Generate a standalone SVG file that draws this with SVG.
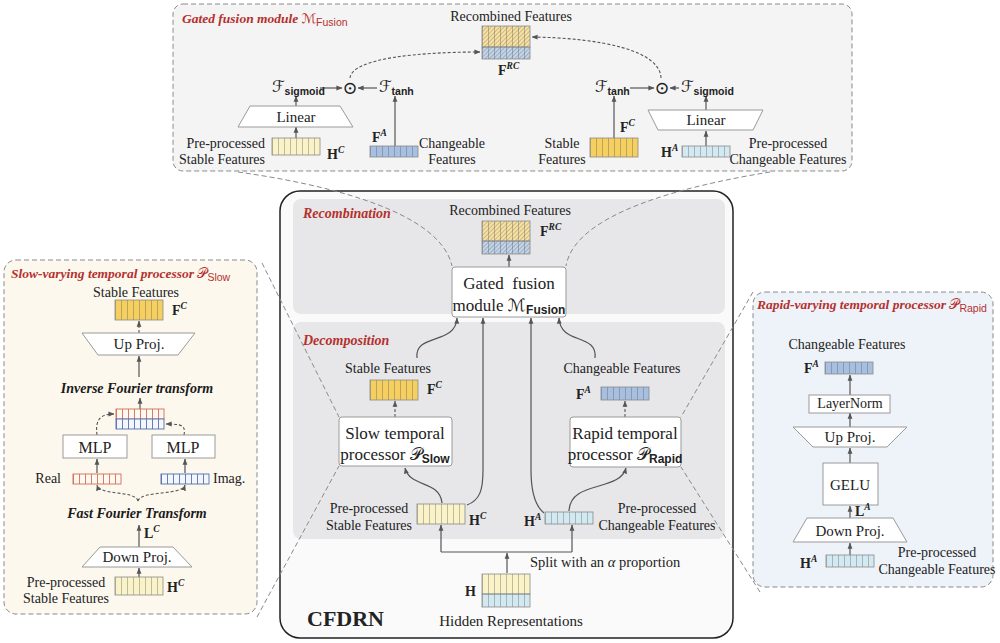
<svg xmlns="http://www.w3.org/2000/svg" width="1000" height="643" viewBox="0 0 1000 643">
<defs>
<style>
.t{font-family:"Liberation Serif",serif;font-size:14px;fill:#222}
.mid{text-anchor:middle}
.end{text-anchor:end}
.big{font-size:17px}
.ti{font-family:"Liberation Serif",serif;font-weight:bold;font-style:italic;fill:#b5302e;font-size:13.5px}
.bi{font-family:"Liberation Serif",serif;font-weight:bold;font-style:italic;fill:#1a1a1a;font-size:14px}
.b{font-weight:bold}
.m{font-family:"DejaVu Serif","DejaVu Sans",serif;font-style:normal;font-weight:normal}
.sub{font-family:"Liberation Sans",sans-serif;font-weight:bold;font-size:10.5px;font-style:normal}
.sup{font-size:9.5px;font-style:italic;font-weight:bold}
.box{fill:#fff;stroke:#9a9a9a;stroke-width:1}
.ln{fill:none;stroke:#555;stroke-width:1.2}
.dl{fill:none;stroke:#555;stroke-width:1.1;stroke-dasharray:3 2}
.zm{fill:none;stroke:#8a8a8a;stroke-width:1;stroke-dasharray:5 3}
.cy{fill:#fbf3c8}.cg{fill:#f5cf60}.cb{fill:#a7bfe0}.cc{fill:#d3e9f2}.hy{fill:#f7e2a4}.hb{fill:#c3d5ea}
.cell{fill:url(#cells);stroke:#8a8a8a;stroke-width:.8}
.hat{fill:url(#hatch)}
.cr{fill:url(#cellsR);stroke:#d07050;stroke-width:.9}
.cbl{fill:url(#cellsB);stroke:#5570b0;stroke-width:.9}
</style>
<pattern id="cells" patternUnits="objectBoundingBox" width="0.125" height="1"><rect width="0.8" height="80" fill="#555" fill-opacity="0.45"/></pattern>
<pattern id="cellsR" patternUnits="objectBoundingBox" width="0.125" height="1"><rect width="0.9" height="80" fill="#d07050"/></pattern>
<pattern id="cellsB" patternUnits="objectBoundingBox" width="0.125" height="1"><rect width="0.9" height="80" fill="#5570b0"/></pattern>
<pattern id="hatch" patternUnits="userSpaceOnUse" width="3" height="3" patternTransform="rotate(45)"><rect width="0.9" height="3" fill="#000" fill-opacity="0.2"/></pattern>
<marker id="a" viewBox="0 0 8 8" refX="7.5" refY="4" markerWidth="6" markerHeight="6" orient="auto" markerUnits="userSpaceOnUse"><path d="M0,0.8 L8,4 L0,7.2z" fill="#555"/></marker>
</defs>

<g id="panel-fusion">
<rect x="173" y="4" width="679" height="167" rx="10" fill="#f4f4f4" stroke="#8a8a8a" stroke-dasharray="5 3"/>
<text class="ti" x="182" y="23">Gated fusion module <tspan class="m">ℳ</tspan><tspan class="sub" style="font-weight:normal" dy="3">Fusion</tspan></text>
</g>
<g id="panel-slow">
<rect x="4" y="260" width="253" height="354" rx="12" fill="#fcf8ee" stroke="#8a8a8a" stroke-dasharray="5 3"/>
<text class="ti" x="11" y="278">Slow-varying temporal processor <tspan class="m">𝒫</tspan><tspan class="sub" style="font-weight:normal" dy="3">Slow</tspan></text>
</g>
<g id="panel-rapid">
<rect x="753" y="292" width="240" height="295" rx="12" fill="#eef3f9" stroke="#8a8a8a" stroke-dasharray="5 3"/>
<text class="ti" x="757" y="309">Rapid-varying temporal processor <tspan class="m">𝒫</tspan><tspan class="sub" style="font-weight:normal" dy="3">Rapid</tspan></text>
</g>
<g id="panel-cfdrn">
<rect x="280" y="191" width="453" height="447" rx="20" fill="#fafafa" stroke="#222" stroke-width="1.5"/>
<rect x="293" y="199" width="432" height="115" rx="8" fill="#e7e7e9"/>
<rect x="293" y="322" width="432" height="217" rx="8" fill="#e7e7e9"/>
<text class="ti" x="303" y="218" style="font-size:14px">Recombination</text>
<text class="ti" x="303" y="345" style="font-size:14px">Decomposition</text>
<text class="t b" x="307" y="626" style="font-size:22px">CFDRN</text>
</g>

<g id="connectors">
<path class="zm" d="M238,172 C330,185 440,212 452,266"/>
<path class="zm" d="M770,172 C690,185 575,212 566,266"/>
<path class="zm" d="M262,263 L339,417"/>
<path class="zm" d="M257,617 L339,466"/>
<path class="zm" d="M753,292 L681,417"/>
<path class="zm" d="M760,592 L681,467"/>
<path class="dl" d="M350,78 C352,58 420,52 480,52" marker-end="url(#a)"/>
<path class="dl" d="M661,78 C660,50 600,38 532,37" marker-end="url(#a)"/>
<path class="ln" d="M320,88 L342,88" marker-end="url(#a)"/>
<path class="ln" d="M377,88 L358,88" marker-end="url(#a)"/>
<path class="ln" d="M630,88 L654,88" marker-end="url(#a)"/>
<path class="ln" d="M679,88 L670,88" marker-end="url(#a)"/>
<path class="ln" d="M296,138 L296,127" marker-end="url(#a)"/>
<path class="ln" d="M296,106 L296,96" marker-end="url(#a)"/>
<path class="ln" d="M395,146 L395,96" marker-end="url(#a)"/>
<path class="ln" d="M614,138 L614,96" marker-end="url(#a)"/>
<path class="ln" d="M706,146 L706,131" marker-end="url(#a)"/>
<path class="ln" d="M706,110 L706,96" marker-end="url(#a)"/>
<path class="ln" d="M509,267 L509,255" marker-end="url(#a)"/>
<path class="ln" d="M417,358 C414,333 456,345 457,318" marker-end="url(#a)"/>
<path class="ln" d="M467,505 C480,500 483,490 483,470 L483,318" marker-end="url(#a)"/>
<path class="ln" d="M544,513 C534,505 531,490 531,470 L531,318" marker-end="url(#a)"/>
<path class="ln" d="M595,358 C598,333 560,345 559,318" marker-end="url(#a)"/>
<path class="ln" d="M442,503 C440,480 410,488 405,468" marker-end="url(#a)"/>
<path class="ln" d="M569,511 C570,480 620,492 626,468" marker-end="url(#a)"/>
<path class="dl" d="M395,417 L395,401" marker-end="url(#a)"/>
<path class="dl" d="M625,417 L625,401" marker-end="url(#a)"/>
<path class="ln" d="M507,573 L507,553" marker-end="url(#a)"/>
<path class="ln" d="M441,552 L572,552"/>
<path class="ln" d="M441,552 L441,525" marker-end="url(#a)"/>
<path class="ln" d="M572,552 L572,525" marker-end="url(#a)"/>
<path class="ln" d="M139,577 L139,568" marker-end="url(#a)"/>
<path class="ln" d="M139,547 L139,525" marker-end="url(#a)"/>
<path class="dl" d="M138,501 C135,490 100,496 97,485" marker-end="url(#a)"/>
<path class="dl" d="M138,501 C141,490 182,496 185,485" marker-end="url(#a)"/>
<path class="ln" d="M97,473 L97,459" marker-end="url(#a)"/>
<path class="ln" d="M185,473 L185,459" marker-end="url(#a)"/>
<path class="dl" d="M97,435 C95,420 100,414 114,414" marker-end="url(#a)"/>
<path class="dl" d="M184,435 C186,425 181,424 166,424" marker-end="url(#a)"/>
<path class="ln" d="M140,409 L140,398" marker-end="url(#a)"/>
<path class="ln" d="M139,377 L139,356" marker-end="url(#a)"/>
<path class="dl" d="M139,333 L139,321" marker-end="url(#a)"/>
<path class="ln" d="M850,555 L850,543" marker-end="url(#a)"/>
<path class="ln" d="M850,518 L850,506" marker-end="url(#a)"/>
<path class="ln" d="M850,463 L850,448" marker-end="url(#a)"/>
<path class="ln" d="M850,427 L850,413" marker-end="url(#a)"/>
<path class="ln" d="M850,395 L850,375" marker-end="url(#a)"/>
</g>

<g id="top-frc">
<text class="t mid" x="511" y="21">Recombined Features</text>
<rect class="hy" x="482" y="26" width="48" height="21"/><rect class="hb" x="482" y="47" width="48" height="12"/>
<rect class="hat" x="482" y="26" width="48" height="33"/>
<rect class="cell" x="482" y="26" width="48" height="21"/><rect class="cell" x="482" y="47" width="48" height="12"/>
<text class="t" x="498" y="75"><tspan class="b">F</tspan><tspan class="sup" dy="-6">RC</tspan></text>
</g>
<g id="top-left-ops">
<text class="t" x="272" y="92" style="font-size:16px"><tspan class="m">ℱ</tspan><tspan class="sub" dy="3">sigmoid</tspan></text>
<text class="t mid" x="350" y="94" style="font-size:18px"><tspan class="m">⊙</tspan></text>
<text class="t" x="379" y="92" style="font-size:16px"><tspan class="m">ℱ</tspan><tspan class="sub" dy="3">tanh</tspan></text>
</g>
<g id="top-left-linear">
<polygon class="box" points="250,106 340,106 353,127 238,127"/>
<text class="t mid" x="296" y="122" style="font-size:15px">Linear</text>
</g>
<g id="top-hc">
<rect class="cy" x="272" y="138" width="48" height="17"/><rect class="cell" x="272" y="138" width="48" height="17"/>
<text class="t end" x="265" y="148">Pre-processed</text>
<text class="t end" x="265" y="164">Stable Features</text>
<text class="t" x="327" y="159"><tspan class="b">H</tspan><tspan class="sup" dy="-6">C</tspan></text>
</g>
<g id="top-fa">
<rect class="cb" x="370" y="146" width="48" height="11"/><rect class="cell" x="370" y="146" width="48" height="11"/>
<text class="t" x="372" y="142"><tspan class="b">F</tspan><tspan class="sup" dy="-6">A</tspan></text>
<text class="t mid" x="452" y="148">Changeable</text>
<text class="t mid" x="452" y="164">Features</text>
</g>
<g id="top-right-ops">
<text class="t" x="595" y="92" style="font-size:16px"><tspan class="m">ℱ</tspan><tspan class="sub" dy="3">tanh</tspan></text>
<text class="t mid" x="662" y="94" style="font-size:18px"><tspan class="m">⊙</tspan></text>
<text class="t" x="681" y="92" style="font-size:16px"><tspan class="m">ℱ</tspan><tspan class="sub" dy="3">sigmoid</tspan></text>
</g>
<g id="top-right-linear">
<polygon class="box" points="648,110 763,110 753,130 658,130"/>
<text class="t mid" x="706" y="125" style="font-size:15px">Linear</text>
</g>
<g id="top-fc">
<rect class="cg" x="590" y="138" width="48" height="19"/><rect class="cell" x="590" y="138" width="48" height="19"/>
<text class="t" x="620" y="132"><tspan class="b">F</tspan><tspan class="sup" dy="-6">C</tspan></text>
<text class="t mid" x="562" y="148">Stable</text>
<text class="t mid" x="562" y="164">Features</text>
</g>
<g id="top-ha">
<rect class="cc" x="682" y="146" width="48" height="11"/><rect class="cell" x="682" y="146" width="48" height="11"/>
<text class="t" x="661" y="157"><tspan class="b">H</tspan><tspan class="sup" dy="-6">A</tspan></text>
<text class="t mid" x="788" y="148">Pre-processed</text>
<text class="t mid" x="788" y="164">Changeable Features</text>
</g>

<g id="c-frc">
<text class="t mid" x="510" y="215">Recombined Features</text>
<rect class="hy" x="482" y="221" width="48" height="20"/><rect class="hb" x="482" y="241" width="48" height="13"/>
<rect class="hat" x="482" y="221" width="48" height="33"/>
<rect class="cell" x="482" y="221" width="48" height="20"/><rect class="cell" x="482" y="241" width="48" height="13"/>
<text class="t" x="540" y="236"><tspan class="b">F</tspan><tspan class="sup" dy="-6">RC</tspan></text>
</g>
<g id="c-gated">
<rect class="box" x="452" y="267" width="114" height="50" rx="3"/>
<text class="t big mid" x="509" y="289" xml:space="preserve">Gated  fusion</text>
<text class="t big mid" x="509" y="311">module <tspan class="m">ℳ</tspan><tspan class="sub" style="font-size:12px" dy="3">Fusion</tspan></text>
</g>
<g id="c-fc">
<text class="t mid" x="388" y="373">Stable Features</text>
<rect class="cg" x="370" y="380" width="48" height="20"/><rect class="cell" x="370" y="380" width="48" height="20"/>
<text class="t" x="427" y="394"><tspan class="b">F</tspan><tspan class="sup" dy="-6">C</tspan></text>
</g>
<g id="c-slow">
<rect class="box" x="339" y="417" width="113" height="49" rx="3"/>
<text class="t big mid" x="395" y="439">Slow temporal</text>
<text class="t big mid" x="395" y="460">processor <tspan class="m">𝒫</tspan><tspan class="sub" style="font-size:12px" dy="3">Slow</tspan></text>
</g>
<g id="c-fa">
<text class="t mid" x="622" y="373">Changeable Features</text>
<rect class="cb" x="601" y="387" width="48" height="13"/><rect class="cell" x="601" y="387" width="48" height="13"/>
<text class="t" x="576" y="399"><tspan class="b">F</tspan><tspan class="sup" dy="-6">A</tspan></text>
</g>
<g id="c-rapid">
<rect class="box" x="570" y="417" width="111" height="50" rx="3"/>
<text class="t big mid" x="625" y="439">Rapid temporal</text>
<text class="t big mid" x="625" y="460">processor <tspan class="m">𝒫</tspan><tspan class="sub" style="font-size:12px" dy="3">Rapid</tspan></text>
</g>
<g id="c-hc">
<rect class="cy" x="417" y="504" width="48" height="20"/><rect class="cell" x="417" y="504" width="48" height="20"/>
<text class="t mid" x="369" y="513">Pre-processed</text>
<text class="t mid" x="369" y="530">Stable Features</text>
<text class="t" x="469" y="525"><tspan class="b">H</tspan><tspan class="sup" dy="-6">C</tspan></text>
</g>
<g id="c-ha">
<rect class="cc" x="545" y="512" width="48" height="12"/><rect class="cell" x="545" y="512" width="48" height="12"/>
<text class="t" x="524" y="526"><tspan class="b">H</tspan><tspan class="sup" dy="-6">A</tspan></text>
<text class="t mid" x="657" y="513">Pre-processed</text>
<text class="t mid" x="657" y="530">Changeable Features</text>
</g>
<g id="c-h">
<text class="t" x="530" y="567" style="font-size:14.5px">Split with an <tspan style="font-style:italic">α</tspan> proportion</text>
<rect class="cy" x="482" y="574" width="48" height="20"/><rect class="cc" x="482" y="594" width="48" height="13"/>
<rect class="cell" x="482" y="574" width="48" height="20"/><rect class="cell" x="482" y="594" width="48" height="13"/>
<text class="t b" x="465" y="596">H</text>
<text class="t mid" x="511" y="626" style="font-size:15px">Hidden Representations</text>
</g>

<g id="l-fc">
<text class="t mid" x="136" y="297">Stable Features</text>
<rect class="cg" x="115" y="300" width="48" height="20"/><rect class="cell" x="115" y="300" width="48" height="20"/>
<text class="t" x="172" y="315"><tspan class="b">F</tspan><tspan class="sup" dy="-6">C</tspan></text>
</g>
<g id="l-up">
<polygon class="box" points="82,333 195,333 178,355 98,355"/>
<text class="t mid" x="139" y="349" style="font-size:15px">Up Proj.</text>
</g>
<g id="l-ift">
<text class="bi mid" x="137" y="393">Inverse Fourier transform</text>
</g>
<g id="l-comb">
<rect x="116" y="409" width="48" height="10" fill="#fff8f2"/><rect class="cr" x="116" y="409" width="48" height="10"/>
<rect x="116" y="419" width="48" height="10" fill="#f3f6fc"/><rect class="cbl" x="116" y="419" width="48" height="10"/>
</g>
<g id="l-mlp1">
<rect class="box" x="63" y="435" width="64" height="23"/>
<text class="t mid" x="95" y="453" style="font-size:16px">MLP</text>
</g>
<g id="l-mlp2">
<rect class="box" x="152" y="435" width="63" height="23"/>
<text class="t mid" x="183" y="453" style="font-size:16px">MLP</text>
</g>
<g id="l-real">
<rect x="73" y="474" width="48" height="10" fill="#fff8f2"/><rect class="cr" x="73" y="474" width="48" height="10"/>
<text class="t end" x="61" y="483">Real</text>
</g>
<g id="l-imag">
<rect x="161" y="474" width="48" height="10" fill="#f3f6fc"/><rect class="cbl" x="161" y="474" width="48" height="10"/>
<text class="t" x="213" y="483">Imag.</text>
</g>
<g id="l-fft">
<text class="bi mid" x="137" y="518">Fast Fourier Transform</text>
<text class="t" x="144" y="538"><tspan class="b">L</tspan><tspan class="sup" dy="-6">C</tspan></text>
</g>
<g id="l-down">
<polygon class="box" points="100,547 173,547 192,567 82,567"/>
<text class="t mid" x="137" y="562" style="font-size:15px">Down Proj.</text>
</g>
<g id="l-hc">
<rect class="cy" x="115" y="577" width="48" height="18"/><rect class="cell" x="115" y="577" width="48" height="18"/>
<text class="t" x="167" y="592"><tspan class="b">H</tspan><tspan class="sup" dy="-6">C</tspan></text>
<text class="t mid" x="66" y="587">Pre-processed</text>
<text class="t mid" x="66" y="603">Stable Features</text>
</g>

<g id="r-fa">
<text class="t mid" x="847" y="349">Changeable Features</text>
<rect class="cb" x="825" y="362" width="48" height="12"/><rect class="cell" x="825" y="362" width="48" height="12"/>
<text class="t" x="804" y="373"><tspan class="b">F</tspan><tspan class="sup" dy="-6">A</tspan></text>
</g>
<g id="r-ln">
<rect class="box" x="809" y="395" width="81" height="18"/>
<text class="t mid" x="850" y="408">LayerNorm</text>
</g>
<g id="r-up">
<polygon class="box" points="793,427 907,427 887,447 813,447"/>
<text class="t mid" x="850" y="442" style="font-size:15px">Up Proj.</text>
</g>
<g id="r-gelu">
<rect class="box" x="823" y="463" width="55" height="42"/>
<text class="t mid" x="850" y="490" style="font-size:15px">GELU</text>
</g>
<g id="r-down">
<polygon class="box" points="807,518 893,518 907,542 793,542"/>
<text class="t" x="855" y="516"><tspan class="b">L</tspan><tspan class="sup" dy="-6">A</tspan></text>
<text class="t mid" x="850" y="536" style="font-size:15px">Down Proj.</text>
</g>
<g id="r-ha">
<rect class="cc" x="826" y="555" width="48" height="12"/><rect class="cell" x="826" y="555" width="48" height="12"/>
<text class="t" x="800" y="568"><tspan class="b">H</tspan><tspan class="sup" dy="-6">A</tspan></text>
<text class="t mid" x="937" y="557">Pre-processed</text>
<text class="t mid" x="937" y="574">Changeable Features</text>
</g>
</svg>
